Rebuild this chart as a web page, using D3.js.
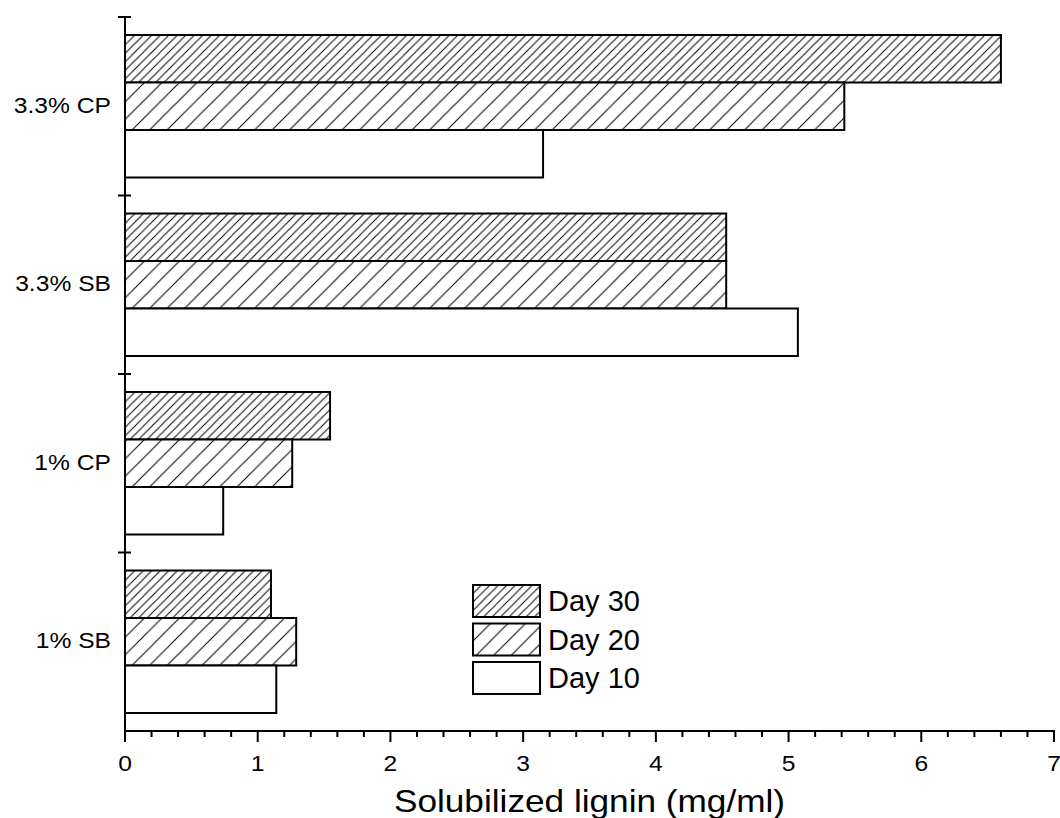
<!DOCTYPE html>
<html>
<head>
<meta charset="utf-8">
<script src="https://cdn.jsdelivr.net/npm/d3@7"></script>
<style>
  body { margin: 0; background: #fff; }
  text { font-family: "Liberation Sans", Arial, sans-serif; fill: #000; }
</style>
</head>
<body>
<div id="chart"></div>
<script>
// data
const categories = ["3.3% CP", "3.3% SB", "1% CP", "1% SB"];
const days = ["Day 30", "Day 20", "Day 10"];
const day30 = [6.60, 4.53, 1.545, 1.10];
const day20 = [5.42, 4.53, 1.26, 1.29];
const day10 = [3.15, 5.07, 0.74, 1.14];
const xTicks = [0, 1, 2, 3, 4, 5, 6, 7];

const series = [day30, day20, day10];
const fills = ["url(#hatchDense)", "url(#hatchSparse)", "#fff"];

const width = 1060, height = 818;
const x0 = 125, x1 = 1054, yTop = 17, yBottom = 731;
const stretch = 1.12; // the original lettering is a little wide

const svg = d3.select("#chart").append("svg")
    .attr("width", width)
    .attr("height", height);

const defs = svg.append("defs");
function hatch(id, step) {
    const p = defs.append("pattern")
        .attr("id", id)
        .attr("patternUnits", "userSpaceOnUse")
        .attr("width", step)
        .attr("height", step);
    p.append("rect").attr("width", step).attr("height", step).attr("fill", "#fff");
    p.append("path")
        .attr("d", `M0,${step} L${step},0 M${-step / 2},${step / 2} L${step / 2},${-step / 2} M${step / 2},${step * 1.5} L${step * 1.5},${step / 2}`)
        .attr("stroke", "#000")
        .attr("stroke-width", 1);
}
hatch("hatchDense", 8.5);
hatch("hatchSparse", 17.5);

const x = d3.scaleLinear().domain([0, 7]).range([x0, x1]);
const y = d3.scaleBand().domain(categories).range([yTop, yBottom]);
const ySub = d3.scaleBand().domain(days).range([18, y.bandwidth() - 18]);

// bars
const rows = svg.append("g").selectAll("g")
    .data(categories)
    .join("g")
    .attr("transform", d => `translate(0,${y(d)})`);

rows.selectAll("rect")
    .data((c, i) => days.map((d, j) => ({ day: d, value: series[j][i], fill: fills[j] })))
    .join("rect")
    .attr("x", x(0))
    .attr("y", d => ySub(d.day))
    .attr("width", d => x(d.value) - x(0))
    .attr("height", ySub.bandwidth())
    .attr("fill", d => d.fill)
    .attr("stroke", "#000")
    .attr("stroke-width", 2);

// x axis
const minor = d3.range(0, 7.001, 0.2).filter(v => Math.abs(v - Math.round(v)) > 1e-6);
const xAxis = svg.append("g").attr("transform", `translate(0,${yBottom})`);
xAxis.append("line")
    .attr("x1", x(0) - 1).attr("x2", x(7) + 1)
    .attr("stroke", "#000").attr("stroke-width", 2);
xAxis.selectAll(".minor")
    .data(minor)
    .join("line")
    .attr("x1", d => x(d)).attr("x2", d => x(d))
    .attr("y1", 0).attr("y2", 6)
    .attr("stroke", "#000").attr("stroke-width", 2);
xAxis.selectAll(".major")
    .data(xTicks)
    .join("line")
    .attr("x1", d => x(d)).attr("x2", d => x(d))
    .attr("y1", 0).attr("y2", 11)
    .attr("stroke", "#000").attr("stroke-width", 2);
xAxis.selectAll("text")
    .data(xTicks)
    .join("text")
    .attr("transform", d => `translate(${x(d)},40) scale(${stretch},1)`)
    .attr("text-anchor", "middle")
    .attr("font-size", 22)
    .text(d => d);

svg.append("text")
    .attr("transform", `translate(${(x(0) + x(7)) / 2},812) scale(1.1,1)`)
    .attr("text-anchor", "middle")
    .attr("font-size", 32)
    .text("Solubilized lignin (mg/ml)");

// y axis
const yAxis = svg.append("g");
yAxis.append("line")
    .attr("x1", x0).attr("x2", x0)
    .attr("y1", yTop).attr("y2", yBottom + 1)
    .attr("stroke", "#000").attr("stroke-width", 2);
yAxis.selectAll(".tick")
    .data(categories)
    .join("line")
    .attr("x1", x0 - 7).attr("x2", x0 + 6)
    .attr("y1", d => y(d)).attr("y2", d => y(d))
    .attr("stroke", "#000").attr("stroke-width", 2);
yAxis.selectAll("text")
    .data(categories)
    .join("text")
    .attr("transform", d => `translate(111,${y(d) + y.bandwidth() / 2}) scale(${stretch},1)`)
    .attr("dy", "0.3em")
    .attr("text-anchor", "end")
    .attr("font-size", 22)
    .text(d => d);

// legend
const legend = svg.append("g").attr("transform", "translate(473,585)");
const item = legend.selectAll("g")
    .data(days)
    .join("g")
    .attr("transform", (d, i) => `translate(0,${i * 38.5})`);
item.append("rect")
    .attr("width", 67)
    .attr("height", 32)
    .attr("fill", (d, i) => fills[i])
    .attr("stroke", "#000")
    .attr("stroke-width", 2);
item.append("text")
    .attr("x", 75)
    .attr("y", 26)
    .attr("font-size", 29)
    .text(d => d);
</script>
</body>
</html>
